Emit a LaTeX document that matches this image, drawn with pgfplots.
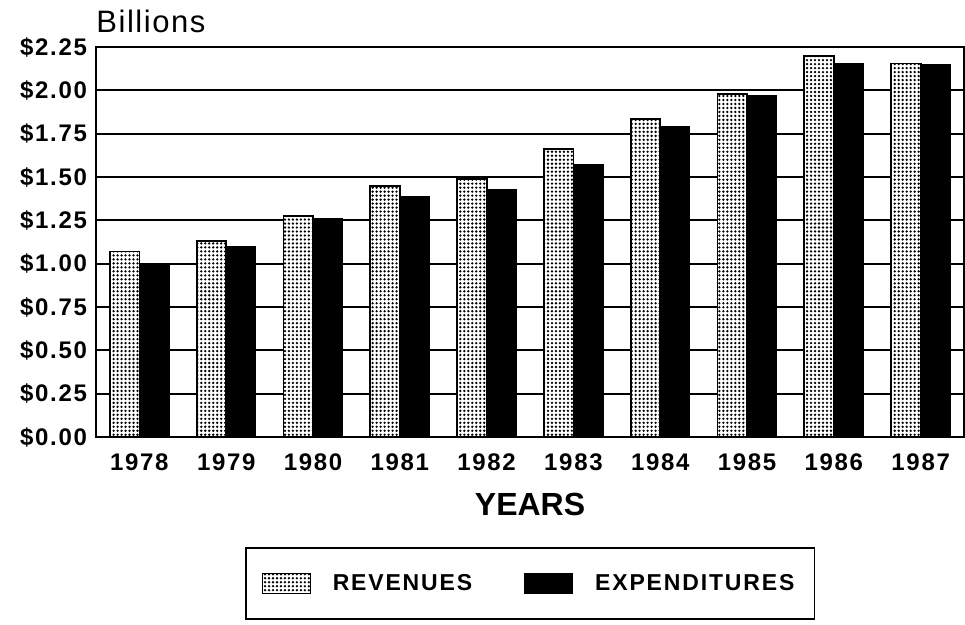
\documentclass[border=0pt]{standalone}
\usepackage{fontspec}
\setmainfont{Liberation Sans}[LetterSpace=8]
\newfontfamily\tickfont{Liberation Sans}[LetterSpace=7]
\newfontfamily\titlefont{Liberation Sans}[LetterSpace=5]
\newfontfamily\labelfont{Liberation Sans}[LetterSpace=0]
\usepackage{pgfplots}
\pgfplotsset{compat=1.18}
\usetikzlibrary{patterns.meta}

\tikzdeclarepattern{
  name=dotgrid,
  type=uncolored,
  bottom left={(-0.1pt,-0.1pt)},
  top right={(2.1pt,2.1pt)},
  tile size={(2pt,2pt)},
  code={\fill (1pt,1pt) circle (0.65pt);}
}

\pgfplotstableread{
x year rev exp
0 1978 1.07  1.00
1 1979 1.13  1.10
2 1980 1.275 1.26
3 1981 1.45  1.39
4 1982 1.49  1.43
5 1983 1.66  1.575
6 1984 1.835 1.79
7 1985 1.98  1.97
8 1986 2.20  2.155
9 1987 2.155 2.15
}\budget

\begin{document}
\begin{tikzpicture}
\begin{axis}[
    scale only axis,
    width=434bp, height=195bp,
    ybar=0pt, bar width=0.34,
    xmin=-0.5, xmax=9.5,
    ymin=0, ymax=2.25,
    xtick=data,
    xticklabels={1978,1979,1980,1981,1982,1983,1984,1985,1986,1987},
    ytick={0,0.25,...,2.25},
    yticklabel={\$\pgfmathprintnumber[fixed,fixed zerofill,precision=2]{\tick}},
    /pgf/number format/assume math mode=true,
    major tick length=0pt,
    ymajorgrids,
    grid style={black, line width=0.9bp},
    axis line style={line width=0.9bp},
    tick label style={font=\tickfont\bfseries\fontsize{12bp}{14bp}\selectfont},
    yticklabel style={xshift=-1bp},
    xticklabel style={yshift=-5bp},
    xlabel={YEARS},
    xlabel style={font=\labelfont\bfseries\fontsize{16bp}{19bp}\selectfont, yshift=-4bp},
    clip=false,
    legend columns=2,
    legend style={
        at={(rel axis cs:0.5,-0.3756)}, anchor=center,
        draw=black, line width=0.8bp,
        font=\bfseries\fontsize{11.5bp}{13bp}\selectfont,
        inner xsep=8bp, inner ysep=11bp,
        /tikz/every odd column/.append style={column sep=9bp},
        /tikz/every even column/.append style={column sep=24bp},
    },
    legend image code/.code={\draw[#1, line width=0.5bp] (0bp,-5bp) rectangle (24bp,5bp);},
]
\addplot[draw=black, line width=0.9bp, fill=white, postaction={pattern=dotgrid, pattern color=black}]
    table[x=x, y=rev] {\budget};
\addlegendentry{REVENUES}
\addplot[draw=black, fill=black] table[x=x, y=exp] {\budget};
\addlegendentry{EXPENDITURES}
\node[anchor=base west, inner xsep=0pt, font=\titlefont\fontsize{15.5bp}{18bp}\selectfont]
    at ([yshift=7bp]rel axis cs:0,1) {Billions};
% page margins as in the reference
\path ([xshift=-48bp,yshift=23.5bp]rel axis cs:0,1) ([yshift=-93.5bp]rel axis cs:1,0);
\end{axis}
\end{tikzpicture}
\end{document}
